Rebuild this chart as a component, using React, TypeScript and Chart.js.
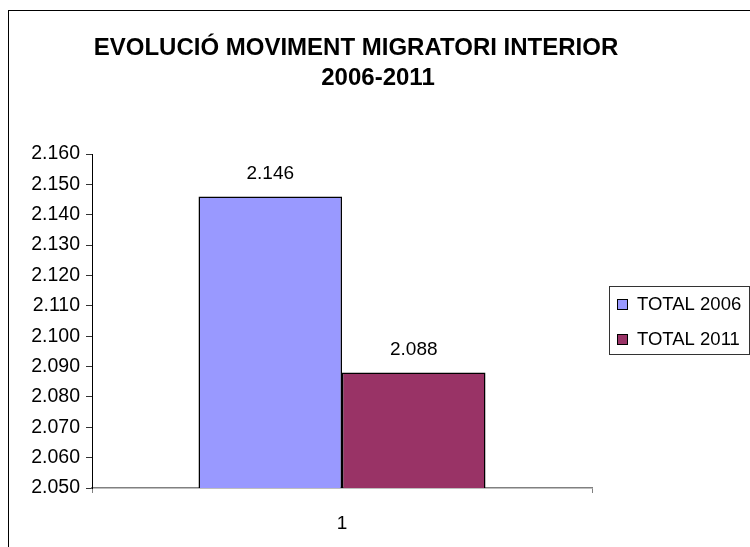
import React, { useEffect, useRef } from "react";
import { Chart, registerables } from "chart.js";

Chart.register(...registerables);

const titleLines = ["EVOLUCIÓ MOVIMENT MIGRATORI INTERIOR", "2006-2011"];
const categories = ["1"];
const seriesLabels = ["TOTAL 2006", "TOTAL 2011"];
const total2006 = [2146];
const total2011 = [2088];
const seriesColors = ["#9999FF", "#993366"];
const yMin = 2050;
const yMax = 2160;
const yStep = 10;

const FONT = "'Liberation Sans', Arial, sans-serif";

function fmt(v: number): string {
  const s = Math.round(v).toString();
  return s.replace(/\B(?=(\d{3})+(?!\d))/g, ".");
}

const decorPlugin = {
  id: "decor",
  beforeDraw(chart: any) {
    const ctx = chart.ctx;
    ctx.save();
    ctx.fillStyle = "#ffffff";
    ctx.fillRect(0, 0, chart.width, chart.height);
    ctx.strokeStyle = "#000000";
    ctx.lineWidth = 1;
    ctx.strokeRect(8.5, 10.5, 900, 700);
    ctx.restore();
  },
  afterDraw(chart: any) {
    const ctx = chart.ctx;
    ctx.save();
    // title
    ctx.fillStyle = "#000000";
    ctx.font = `bold 24px ${FONT}`;
    ctx.textAlign = "center";
    ctx.textBaseline = "alphabetic";
    ctx.fillText(titleLines[0], 356, 55);
    ctx.fillText(titleLines[1], 378, 85);

    // data labels
    ctx.font = `19px ${FONT}`;
    ctx.textAlign = "center";
    ctx.textBaseline = "alphabetic";
    chart.data.datasets.forEach((ds: any, i: number) => {
      const meta = chart.getDatasetMeta(i);
      meta.data.forEach((el: any, j: number) => {
        ctx.fillText(fmt(ds.data[j]), el.x, el.y - 18);
      });
    });

    // legend
    ctx.font = `18.5px ${FONT}`;
    const lx = 609.5, ly = 286.5, lw = 140, lh = 68;
    ctx.strokeStyle = "#333333";
    ctx.lineWidth = 1;
    ctx.strokeRect(lx, ly, lw, lh);
    ctx.textAlign = "left";
    ctx.textBaseline = "middle";
    chart.data.datasets.forEach((ds: any, i: number) => {
      const cy = 304 + i * 35;
      ctx.fillStyle = ds.backgroundColor;
      ctx.fillRect(617, cy - 5, 10, 10);
      ctx.strokeStyle = "#000000";
      ctx.strokeRect(617.5, cy - 4.5, 10, 10);
      ctx.fillStyle = "#000000";
      ctx.fillText(ds.label, 637, cy + 1);
    });
    ctx.restore();
  },
};

export default function App() {
  const ref = useRef<HTMLCanvasElement | null>(null);
  useEffect(() => {
    if (!ref.current) return;
    const chart = new Chart(ref.current, {
      type: "bar",
      data: {
        labels: categories,
        datasets: [
          {
            label: seriesLabels[0],
            data: total2006,
            backgroundColor: seriesColors[0],
            borderColor: "#000000",
            borderWidth: 1.5,
            categoryPercentage: 0.574,
            barPercentage: 1,
          },
          {
            label: seriesLabels[1],
            data: total2011,
            backgroundColor: seriesColors[1],
            borderColor: "#000000",
            borderWidth: 1.5,
            categoryPercentage: 0.574,
            barPercentage: 1,
          },
        ],
      },
      options: {
        animation: false,
        responsive: true,
        maintainAspectRatio: false,
        layout: { padding: { left: 0, top: 154, right: 158, bottom: 0 } },
        plugins: {
          legend: { display: false },
          title: { display: false },
          tooltip: { enabled: false },
        },
        scales: {
          x: {
            grid: {
              display: true,
              drawOnChartArea: false,
              drawTicks: true,
              tickLength: 5,
              color: "#808080",
              offset: true,
            },
            border: { display: true, color: "#808080", width: 1.5 },
            ticks: {
              color: "#000000",
              font: { family: FONT, size: 19 },
              padding: 19,
            },
            afterFit(scale: any) {
              scale.height = 59;
            },
          },
          y: {
            min: yMin,
            max: yMax,
            grid: {
              display: true,
              drawOnChartArea: false,
              drawTicks: true,
              tickLength: 6,
              color: "#333333",
            },
            border: { display: true, color: "#000000", width: 1 },
            ticks: {
              stepSize: yStep,
              color: "#000000",
              font: { family: FONT, size: 19.5 },
              padding: 6,
              callback: (v: any) => fmt(Number(v)),
            },
            afterFit(scale: any) {
              scale.width = 92;
            },
          },
        },
      },
      plugins: [decorPlugin],
    });
    return () => chart.destroy();
  }, []);
  return (
    <div style={{ position: "fixed", left: 0, top: 0, width: 750, height: 547 }}>
      <canvas ref={ref} />
    </div>
  );
}
